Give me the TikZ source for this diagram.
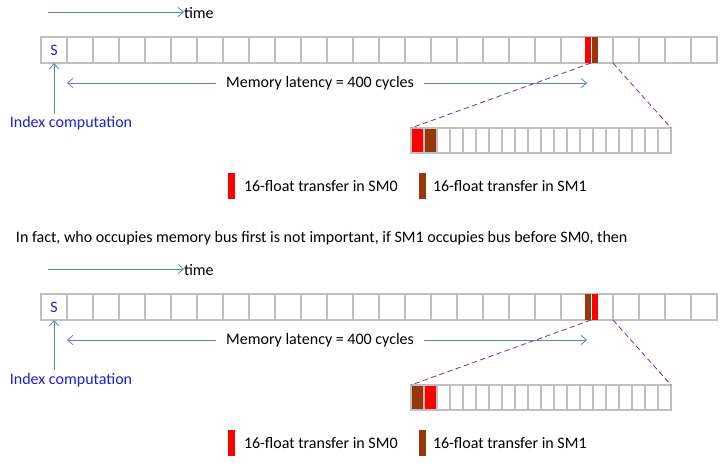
\documentclass[tikz,border=0pt]{standalone}
\usepackage{fontspec}
\setmainfont{Carlito}
\usetikzlibrary{arrows.meta}
\definecolor{cellgray}{RGB}{191,191,191}
\definecolor{sm0red}{RGB}{255,0,0}
\definecolor{sm1brown}{RGB}{150,55,12}
\definecolor{arrblue}{RGB}{90,130,190}
\definecolor{txtblue}{RGB}{30,30,210}
\definecolor{dashpurple}{RGB}{112,48,160}
\tikzset{
  bigcell/.style={draw=cellgray, line width=1.5pt, minimum width=19.5pt, minimum height=19.5pt, inner sep=0pt, outer sep=0pt},
  smallcell/.style={draw=cellgray, line width=1.5pt, minimum width=9.75pt, minimum height=18.75pt, inner sep=0pt, outer sep=0pt},
  blk/.style={minimum width=4.5pt, minimum height=19.5pt, inner sep=0pt, outer sep=0pt},
  legbar/.style={minimum width=5.25pt, minimum height=19.5pt, inner sep=0pt, outer sep=0pt},
  txt/.style={font=\fontsize{12}{14}\selectfont, inner sep=0pt, outer sep=0pt},
  bluearrow/.style={draw=arrblue, line width=0.6pt, -{Straight Barb[length=4pt,width=7pt]}},
  zoomline/.style={draw=dashpurple, line width=0.6pt, dash pattern=on 4pt off 2.5pt},
}
\begin{document}
\begin{tikzpicture}[x=0.75pt, y=-0.75pt]
\useasboundingbox (0,0) rectangle (724,467);
% ---------- two panels ----------
\foreach \p/\oy/\first/\second in {A/0/sm0red/sm1brown, B/257/sm1brown/sm0red}{
  \begin{scope}[yshift=-\oy*0.75pt]
    % time arrow
    \coordinate (\p ts) at (48,12);
    \node[txt, anchor=west] (\p time) at (184,13) {time};
    \draw[bluearrow] (\p ts) -- (\p ts -| \p time.west);
    % main bar
    \foreach \i in {0,...,25}{
      \node[bigcell] (\p c\i) at (54+26*\i,50) {};
    }
    \node[txt, text=txtblue] (\p S) at (\p c0) {S};
    \node[blk, fill=\first] (\p b0) at (588,50) {};
    \node[blk, fill=\second] (\p b1) at (595,50) {};
    % zoomed bar
    \foreach \i in {0,...,19}{
      \node[smallcell] (\p z\i) at (417.5+13*\i,140.5) {};
    }
    \node[smallcell, fill=\first] at (\p z0) {};
    \node[smallcell, fill=\second] at (\p z1) {};
    % dashed zoom lines
    \draw[zoomline] (\p b0.south east) -- (\p z0.north west);
    \draw[zoomline] (\p c21.south east) -- (\p z19.north east);
    % latency arrow
    \node[txt, fill=white, inner xsep=7.5pt, inner ysep=2pt] (\p lat) at (320,83) {Memory latency = 400 cycles};
    \coordinate (\p l1) at (67,83);
    \coordinate (\p l2) at (587,83);
    \draw[bluearrow] (\p lat.west) -- (\p l1);
    \draw[bluearrow] (\p lat.east) -- (\p l2);
    % index computation
    \node[txt, text=txtblue] (\p idx) at (71,123) {Index computation};
    \draw[bluearrow] (\p idx.north -| \p c0) ++(0,-3) -- (\p c0.south);
    % legend
    \node[legbar, fill=sm0red] (\p lg0) at (231.5,186) {};
    \node[txt, anchor=west] (\p lt0) at (244,186) {16-float transfer in SM0};
    \node[legbar, fill=sm1brown] (\p lg1) at (422.5,186) {};
    \node[txt, anchor=west] (\p lt1) at (433,186) {16-float transfer in SM1};
  \end{scope}
}
\node[txt, anchor=west] (sentence) at (16,238) {In fact, who occupies memory bus first is not important, if SM1 occupies bus before SM0, then};
\end{tikzpicture}
\end{document}
